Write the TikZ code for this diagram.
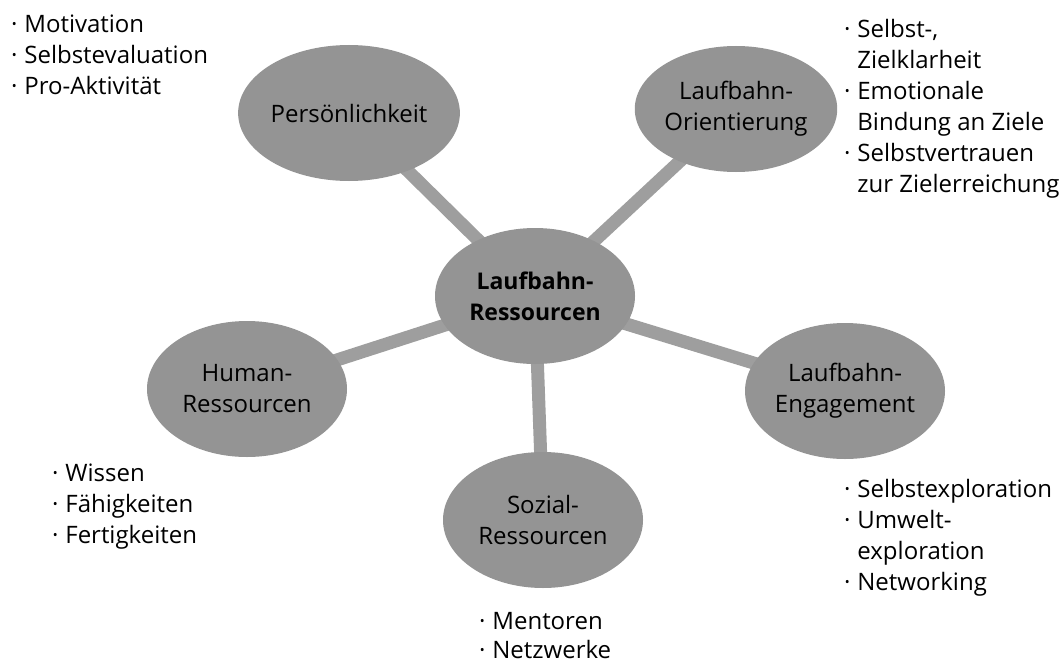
\documentclass[tikz,border=0pt]{standalone}
\usepackage{fontspec}
\setmainfont{Open Sans}
\usetikzlibrary{shapes.geometric,backgrounds}
\newcommand\bl{\makebox[0.55em][l]{·}}
\newcommand\ind{\hspace*{0.55em}}
\begin{document}
\begin{tikzpicture}[x=1pt,y=-1pt,
  res/.style={ellipse, fill=black!42, draw=none, minimum width=200pt, minimum height=136pt,
    inner sep=0pt, align=center, font=\fontsize{24}{31}\selectfont, text=black},
  link/.style={line width=13pt, draw=black!38},
  liste/.style={anchor=north west, align=left, inner sep=0pt, font=\fontsize{24}{31}\selectfont}]
\useasboundingbox (0,0) rectangle (1062,669);
% category ellipses
\node[res] (pers) at (349,113) {Persönlichkeit};
\node[res, minimum width=192pt, minimum height=126pt] (orient) at (736,109) {Laufbahn-\\Orientierung};
\node[res, font=\fontsize{23}{31}\selectfont\bfseries] (center) at (535,296) {Laufbahn-\\Ressourcen};
\node[res] (human) at (247,389) {Human-\\Ressourcen};
\node[res] (engage) at (845,391) {Laufbahn-\\Engagement};
\node[res] (sozial) at (543,520) {Sozial-\\Ressourcen};
% spokes behind the ellipses
\begin{scope}[on background layer]
  \draw[link] (center.center) -- (pers.center);
  \draw[link] (center.center) -- (orient.center);
  \draw[link] (center.center) -- (human.center);
  \draw[link] (center.center) -- (engage.center);
  \draw[link] (center.center) -- (sozial.center);
\end{scope}
% bullet lists
\node[liste] (lpers) at (11,15) {\bl Motivation\\\bl Selbstevaluation\\\bl Pro-Aktivität};
\node[liste] (lorient) at (844,19) {\bl Selbst-,\\\ind Zielklarheit\\\bl Emotionale\\\ind Bindung an Ziele\\\bl Selbstvertrauen\\\ind zur Zielerreichung};
\node[liste] (lhuman) at (52,464) {\bl Wissen\\\bl Fähigkeiten\\\bl Fertigkeiten};
\node[liste] (lengage) at (844,479) {\bl Selbstexploration\\\bl Umwelt-\\\ind exploration\\\bl Networking};
\node[liste, font=\fontsize{24}{29}\selectfont] (lsozial) at (479,612) {\bl Mentoren\\\bl Netzwerke};
\end{tikzpicture}
\end{document}
